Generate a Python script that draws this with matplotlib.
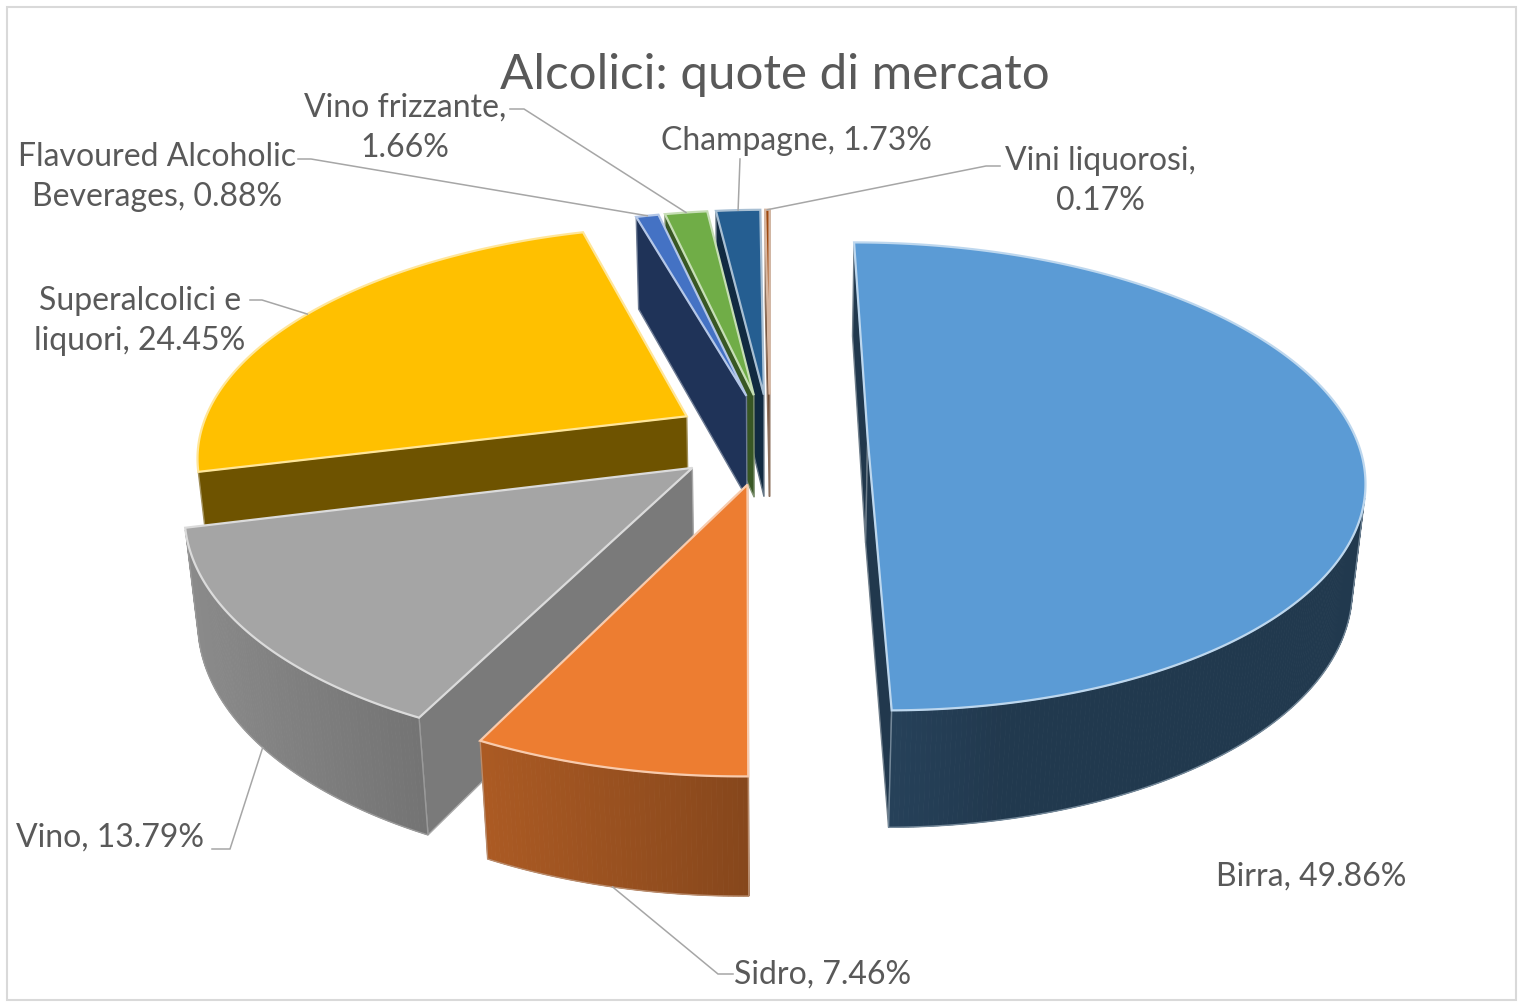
import textwrap

import numpy as np
import matplotlib.pyplot as plt
from matplotlib.patches import Polygon, Rectangle
from matplotlib.colors import to_rgb

categories = ['Birra', 'Sidro', 'Vino', 'Superalcolici e liquori',
              'Flavoured Alcoholic Beverages', 'Vino frizzante',
              'Champagne', 'Vini liquorosi']
shares = [49.86, 7.46, 13.79, 24.45, 0.88, 1.66, 1.73, 0.17]

colors = ['#5B9BD5', '#ED7D31', '#A5A5A5', '#FFC000',
          '#4472C4', '#70AD47', '#255E91', '#9E480E']
side_dark = [0.46, 0.62, 0.60, 0.43, 0.45, 0.50, 0.45, 0.50]
radial_dark = [0.36, 0.55, 0.74, 0.43, 0.45, 0.50, 0.45, 0.50]

# label layout (pixels): text centre, wrap width, leader end at the text, elbow
label_xy = [(1311, 877), (823, 975), (110, 838), (140, 321),
            (157, 177), (405, 128), (796, 141), (1100, 181)]
wrap = [40, 40, 40, 15, 19, 15, 40, 15]
leader_txt = [None, (733, 975), (212, 850), (250, 301),
              (298, 160), (510, 110), (740, 160), (1000, 167)]
leader_elbow = [None, (718, 975), (230, 850), (262, 301),
                (311, 160), (524, 110), (740, 160), (986, 167)]

# 3d view of the pie
ELEV = np.radians(29.4)
DIST = 5.5
THICK = 0.24
EXPLODE = 0.2
CX, CY, SX, SY = 770, 544, 478, 488
LIGHT = np.array([-1.0, -0.2, 0.0]) / np.hypot(1.0, 0.2)
cam = np.array([0.0, -DIST * np.cos(ELEV), DIST * np.sin(ELEV)])


def project(p):
    p = np.atleast_2d(p)
    X, Y, Z = p[:, 0], p[:, 1], p[:, 2]
    v = Y * np.sin(ELEV) + Z * np.cos(ELEV)
    d = Y * np.cos(ELEV) - Z * np.sin(ELEV)
    w = 1 + d / DIST
    return np.column_stack([CX + SX * X / w, CY - SY * v / w])


def shade(c, f):
    return tuple(np.clip(np.array(to_rgb(c)) * f, 0, 1))


def tint(c, f):
    c = np.array(to_rgb(c))
    return tuple(c + (1 - c) * f)


def rim(theta, off, z):
    t = np.radians(np.asarray(theta, dtype=float))
    return np.column_stack([off[0] + np.sin(t), off[1] + np.cos(t),
                            np.full_like(t, z)])


def visible(normal, point):
    return np.dot(normal, cam - point) > 0


fig = plt.figure(figsize=(15.28, 10.03), dpi=100)
ax = fig.add_axes([0, 0, 1, 1])
ax.set_xlim(0, 1528)
ax.set_ylim(1003, 0)
ax.axis('off')


def draw_slice(i, a0, a1, off):
    col = colors[i]
    base = side_dark[i]
    n = max(2, int(np.ceil((a1 - a0) * 2)) + 1)
    th = np.linspace(a0, a1, n)
    apex_top = np.array([off[0], off[1], THICK])
    apex_bot = np.array([off[0], off[1], 0.0])
    top = rim(th, off, THICK)
    bot = rim(th, off, 0.0)

    # flat sides along the radii
    for ang, sgn in ((a0, -1), (a1, 1)):
        t = np.radians(ang)
        nrm = sgn * np.array([np.cos(t), -np.sin(t), 0.0])
        quad = np.array([apex_bot, apex_top,
                         rim([ang], off, THICK)[0], rim([ang], off, 0.0)[0]])
        if visible(nrm, quad.mean(0)):
            fc = shade(col, radial_dark[i])
            ax.add_patch(Polygon(project(quad), closed=True, fc=fc,
                                 ec=tint(fc, 0.35), lw=1.0))

    # curved outer wall
    tm = np.radians((th[:-1] + th[1:]) / 2)
    normals = np.column_stack([np.sin(tm), np.cos(tm), np.zeros_like(tm)])
    mids = (top[:-1] + top[1:] + bot[:-1] + bot[1:]) / 4
    vis = np.array([visible(nv, pm) for nv, pm in zip(normals, mids)])
    k = 0
    while k < len(vis):
        if not vis[k]:
            k += 1
            continue
        k0 = k
        while k < len(vis) and vis[k]:
            k += 1
        k1 = k
        for j in range(k0, k1):
            lit = 0.8 + 0.6 * max(0.0, float(np.dot(normals[j], LIGHT)))
            fc = shade(col, min(base * lit, 0.9))
            quad = np.array([top[j], top[j + 1], bot[j + 1], bot[j]])
            ax.add_patch(Polygon(project(quad), closed=True, fc=fc, ec=fc,
                                 lw=0.6))
        outline = np.vstack([top[k0:k1 + 1], bot[k0:k1 + 1][::-1]])
        ax.add_patch(Polygon(project(outline), closed=True, fill=False,
                             ec=tint(shade(col, base), 0.35), lw=1.0))

    # top face
    face = np.vstack([apex_top, top])
    ax.add_patch(Polygon(project(face), closed=True, fc=col,
                         ec=tint(col, 0.6), lw=1.6))


bounds = np.concatenate([[0], np.cumsum(shares)]) / sum(shares) * 360
parts = []
for i, (a0, a1) in enumerate(zip(bounds[:-1], bounds[1:])):
    mid = np.radians((a0 + a1) / 2)
    off = EXPLODE * np.array([np.sin(mid), np.cos(mid)])
    centre = np.array([off[0] + 0.5 * np.sin(mid),
                       off[1] + 0.5 * np.cos(mid), THICK / 2])
    parts.append((np.linalg.norm(cam - centre), i, a0, a1, off))

# far slices first
for _, i, a0, a1, off in sorted(parts, reverse=True):
    draw_slice(i, a0, a1, off)

# data labels with leader lines
font = dict(family=['Lato', 'DejaVu Sans'], color='#595959')
for _, i, a0, a1, off in parts:
    text = textwrap.fill(f'{categories[i]}, {shares[i]:.2f}%', wrap[i])
    ax.text(*label_xy[i], text, ha='center', va='center',
            multialignment='center', fontsize=23, linespacing=1.45, **font)
    if leader_txt[i] is None:
        continue
    mid = (a0 + a1) / 2
    z = THICK if np.cos(np.radians(mid)) > 0 else 0.0
    anchor = project(rim([mid], off, z))[0]
    xs = [anchor[0], leader_elbow[i][0], leader_txt[i][0]]
    ys = [anchor[1], leader_elbow[i][1], leader_txt[i][1]]
    ax.plot(xs, ys, color='#a6a6a6', lw=1.1, solid_joinstyle='miter')

ax.text(775, 75, 'Alcolici: quote di mercato', ha='center', va='center',
        fontsize=35.5, **font)

ax.add_patch(Rectangle((7, 8), 1509, 993, fill=False, ec='#d9d9d9', lw=1.5))

fig.savefig('out.png', dpi=100, facecolor='white')
